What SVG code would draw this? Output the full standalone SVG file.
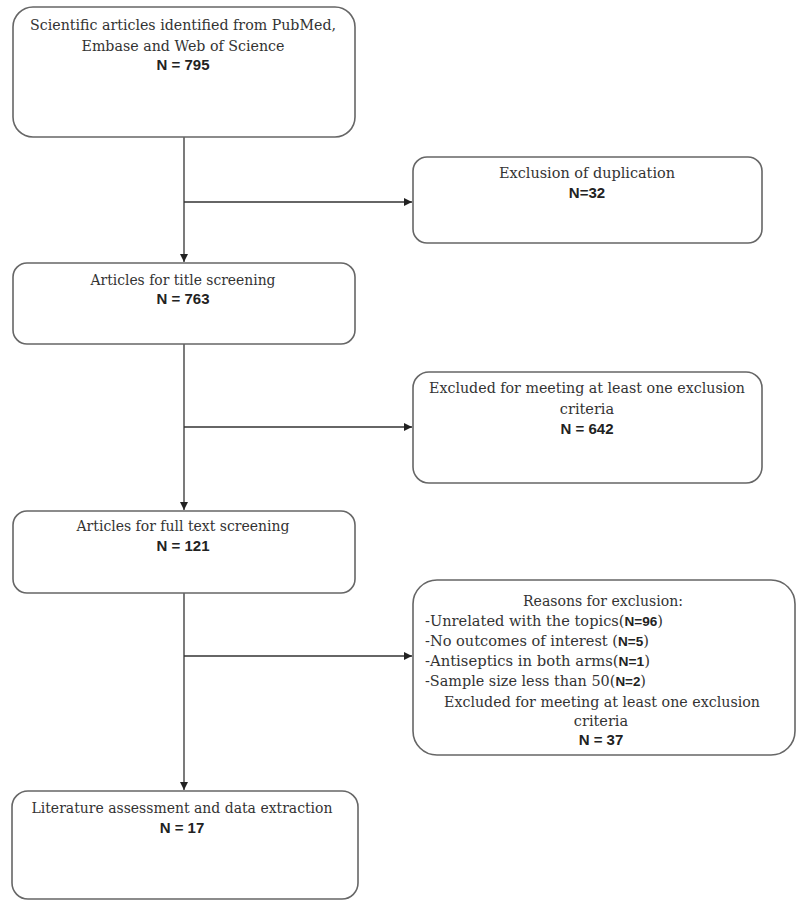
<svg xmlns="http://www.w3.org/2000/svg" width="800" height="911" viewBox="0 0 800 911">
<defs>
<marker id="arr" viewBox="0 0 10 10" refX="10" refY="5" markerWidth="8" markerHeight="8" markerUnits="userSpaceOnUse" orient="auto">
<path d="M0,0 L10,5 L0,10 z" fill="#222"/>
</marker>
<style>
.box{fill:#fff;stroke:#666;stroke-width:1.6}
.t{font-family:"DejaVu Serif","Liberation Serif",serif;font-size:14.5px;fill:#333}
.n{font-family:"Liberation Sans Narrow","Liberation Sans",sans-serif;font-size:15px;font-weight:bold;fill:#222}
.s{font-family:"Liberation Sans Narrow","Liberation Sans",sans-serif;font-size:13.5px;font-weight:bold;fill:#222}
.c{text-anchor:middle}
.ln{fill:none;stroke:#333;stroke-width:1.3}
</style>
</defs>
<rect width="800" height="911" fill="#fff"/>
<g id="connectors">
<line class="ln" x1="184" y1="137" x2="184" y2="262" marker-end="url(#arr)"/>
<line class="ln" x1="184" y1="202" x2="412" y2="202" marker-end="url(#arr)"/>
<line class="ln" x1="184" y1="344" x2="184" y2="510" marker-end="url(#arr)"/>
<line class="ln" x1="184" y1="427" x2="412" y2="427" marker-end="url(#arr)"/>
<line class="ln" x1="184" y1="593" x2="184" y2="790" marker-end="url(#arr)"/>
<line class="ln" x1="184" y1="656" x2="412" y2="656" marker-end="url(#arr)"/>
</g>
<g id="n1">
<rect class="box" x="13" y="7" width="342" height="130" rx="20"/>
<text class="t c" x="183" y="30" textLength="306" lengthAdjust="spacingAndGlyphs">Scientific articles identified from PubMed,</text>
<text class="t c" x="183" y="51" textLength="203" lengthAdjust="spacingAndGlyphs">Embase and Web of Science</text>
<text class="n c" x="183" y="70">N = 795</text>
</g>
<g id="n2">
<rect class="box" x="413" y="157" width="349" height="86" rx="14"/>
<text class="t c" x="587" y="178" textLength="176" lengthAdjust="spacingAndGlyphs">Exclusion of duplication</text>
<text class="n c" x="587" y="198">N=32</text>
</g>
<g id="n3">
<rect class="box" x="13" y="263" width="342" height="81" rx="14"/>
<text class="t c" x="183" y="285" textLength="185" lengthAdjust="spacingAndGlyphs">Articles for title screening</text>
<text class="n c" x="183" y="304">N = 763</text>
</g>
<g id="n4">
<rect class="box" x="413" y="372" width="349" height="111" rx="16"/>
<text class="t c" x="587" y="393" textLength="316" lengthAdjust="spacingAndGlyphs">Excluded for meeting at least one exclusion</text>
<text class="t c" x="587" y="414">criteria</text>
<text class="n c" x="587" y="434">N = 642</text>
</g>
<g id="n5">
<rect class="box" x="13" y="511" width="342" height="82" rx="14"/>
<text class="t c" x="183" y="531" textLength="213" lengthAdjust="spacingAndGlyphs">Articles for full text screening</text>
<text class="n c" x="183" y="551">N = 121</text>
</g>
<g id="n6">
<rect class="box" x="413" y="580" width="382" height="175" rx="24"/>
<text class="t c" x="603" y="606" textLength="160" lengthAdjust="spacingAndGlyphs">Reasons for exclusion:</text>
<text class="t" x="425" y="626" textLength="238" lengthAdjust="spacingAndGlyphs">-Unrelated with the topics(<tspan class="s">N=96</tspan>)</text>
<text class="t" x="425" y="646" textLength="224" lengthAdjust="spacingAndGlyphs">-No outcomes of interest (<tspan class="s">N=5</tspan>)</text>
<text class="t" x="425" y="666" textLength="225" lengthAdjust="spacingAndGlyphs">-Antiseptics in both arms(<tspan class="s">N=1</tspan>)</text>
<text class="t" x="425" y="686" textLength="221" lengthAdjust="spacingAndGlyphs">-Sample size less than 50(<tspan class="s">N=2</tspan>)</text>
<text class="t c" x="602" y="707" textLength="316" lengthAdjust="spacingAndGlyphs">Excluded for meeting at least one exclusion</text>
<text class="t c" x="601" y="726">criteria</text>
<text class="n c" x="601" y="745">N = 37</text>
</g>
<g id="n7">
<rect class="box" x="12" y="791" width="346" height="108" rx="16"/>
<text class="t c" x="182" y="813" textLength="301" lengthAdjust="spacingAndGlyphs">Literature assessment and data extraction</text>
<text class="n c" x="182" y="833">N = 17</text>
</g>
</svg>
